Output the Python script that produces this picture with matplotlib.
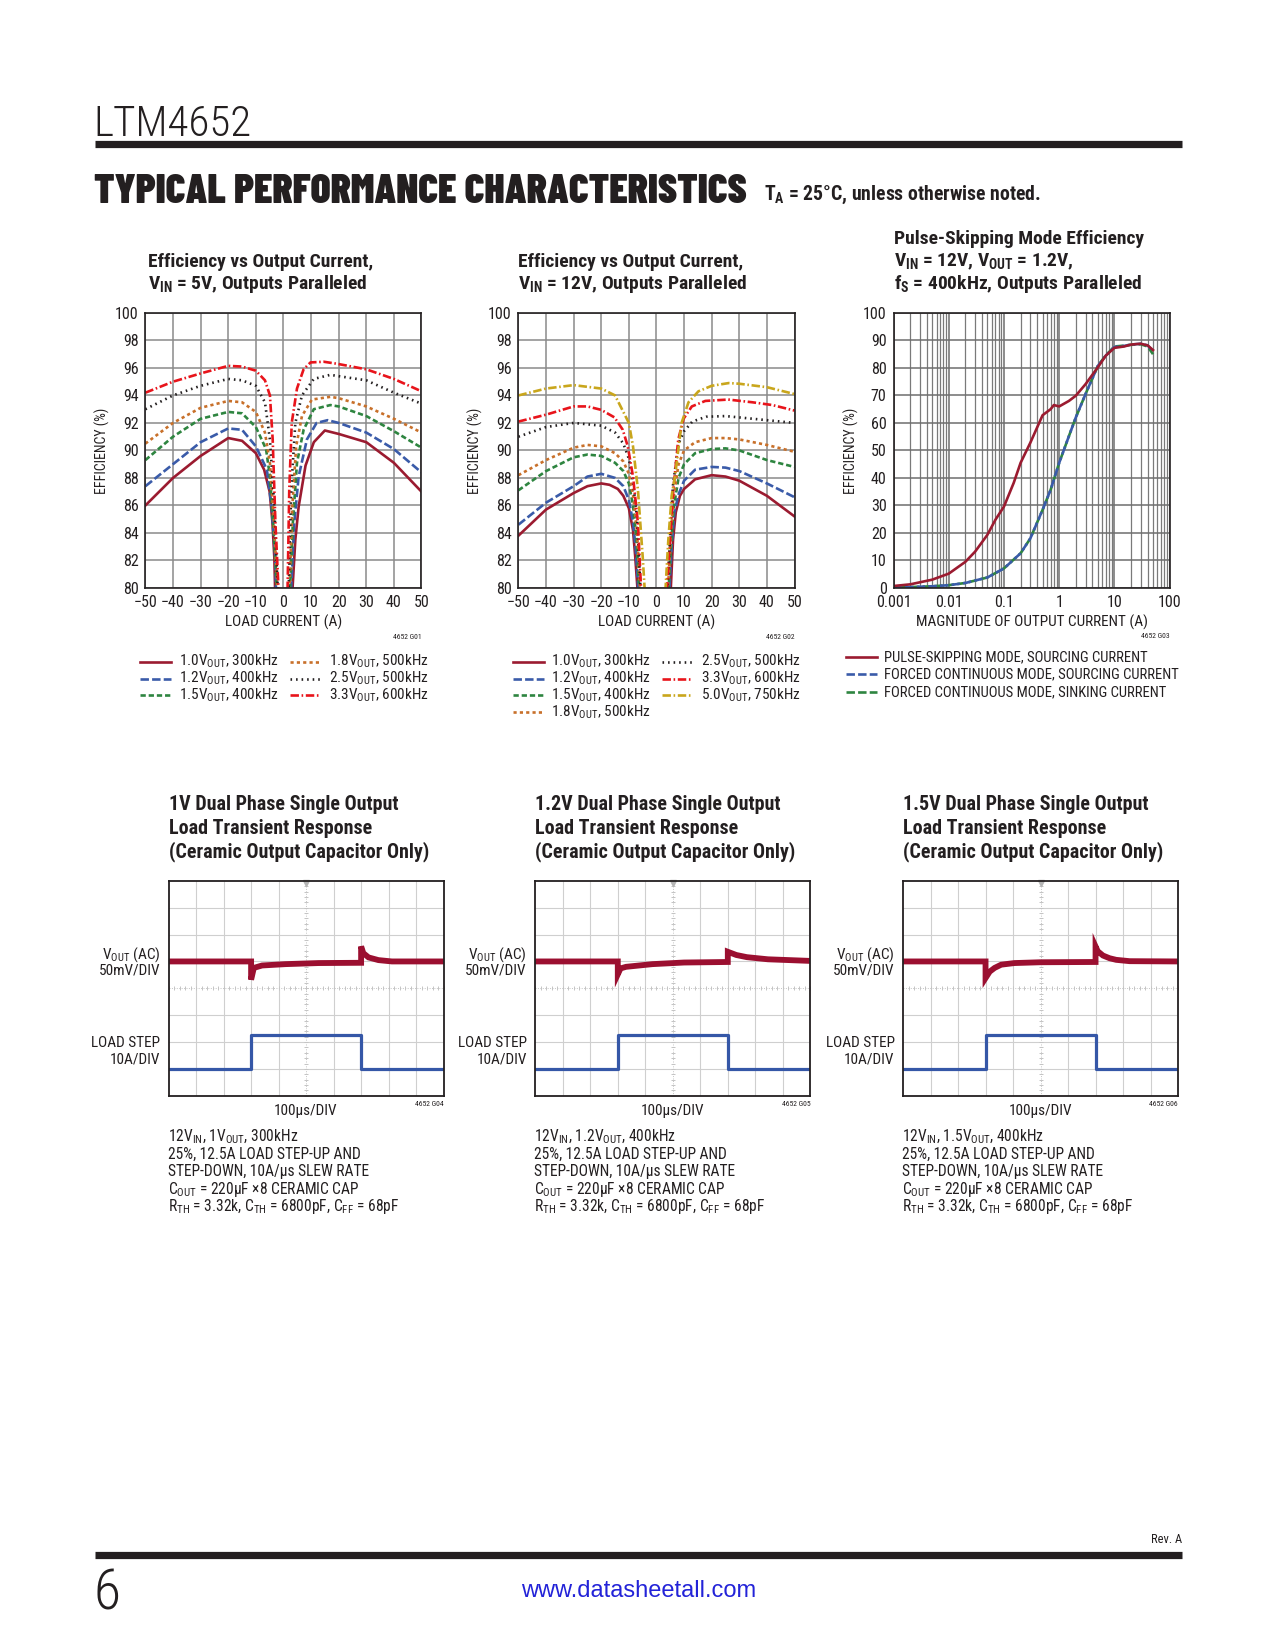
import numpy as np
import matplotlib.pyplot as plt
from matplotlib.lines import Line2D

REG = ['Roboto Condensed', 'DejaVu Sans']
plt.rcParams['font.family'] = REG
plt.rcParams['mathtext.fontset'] = 'custom'
plt.rcParams['mathtext.rm'] = 'Roboto Condensed'
plt.rcParams['mathtext.it'] = 'Roboto Condensed:italic'
plt.rcParams['mathtext.bf'] = 'Roboto Condensed:bold'
plt.rcParams['axes.unicode_minus'] = True

# ---------------- data: efficiency, VIN = 5V (G01) ----------------
g01_10_x = [-50, -40, -30, -20, -15, -10, -7, -5, -4, -3.3, -2.8, 2.8, 3.3, 4.3, 5.5, 8, 11, 15, 20, 30, 40, 50]
g01_10_y = [86.0, 88.0, 89.6, 90.9, 90.7, 89.8, 88.6, 87.0, 84.8, 82.2, 78, 78, 80, 83.5, 85.9, 88.9, 90.6, 91.45, 91.2, 90.6, 89.1, 87.0]
g01_12_x = [-50, -40, -30, -20, -15, -10, -6, -4.3, -3, -2.5, 2.5, 2.8, 3.9, 5.5, 8.5, 12, 16, 20, 30, 40, 50]
g01_12_y = [87.4, 89.0, 90.6, 91.6, 91.5, 90.3, 88.6, 85.9, 82.3, 78, 78, 80, 84.7, 88.1, 90.8, 92.0, 92.2, 92.0, 91.3, 90.1, 88.4]
g01_15_x = [-50, -40, -30, -20, -15, -10, -6.3, -4.9, -3.7, -2.4, -2.1, 2.1, 2.4, 3.4, 4.9, 7.3, 11, 17, 20, 30, 40, 50]
g01_15_y = [89.3, 91.0, 92.3, 92.8, 92.7, 91.7, 90.1, 88.1, 84.7, 80, 78, 78, 80, 84.7, 89.1, 91.5, 93.0, 93.3, 93.2, 92.5, 91.4, 90.2]
g01_18_x = [-50, -40, -30, -20, -15, -10, -6.7, -4.9, -3.5, -2.2, -1.9, 1.9, 2.2, 3.2, 4.6, 6.7, 10.3, 17, 20, 30, 40, 50]
g01_18_y = [90.5, 92.0, 93.1, 93.6, 93.5, 92.8, 91.3, 89.1, 85.0, 80, 78, 78, 80, 85.9, 90.3, 92.5, 93.7, 93.9, 93.8, 93.2, 92.3, 91.3]
g01_25_x = [-50, -40, -30, -20, -15, -10, -6.7, -4.9, -3.3, -2.1, -1.8, 1.7, 1.9, 2.8, 4.3, 6.7, 11, 17, 20, 30, 40, 50]
g01_25_y = [93.0, 94.0, 94.7, 95.2, 95.1, 94.7, 93.5, 90.8, 85.9, 80, 78, 78, 80, 87.1, 92.0, 94.0, 95.2, 95.5, 95.4, 95.1, 94.2, 93.4]
g01_33_x = [-50, -40, -30, -20, -15, -10, -6.7, -4.9, -3.9, -2.9, -1.8, -1.5, 1.3, 1.5, 2.1, 3.0, 4.9, 7.3, 9.8, 14.6, 19.5, 30, 40, 50]
g01_33_y = [94.2, 95.0, 95.6, 96.15, 96.1, 95.8, 95.1, 94.0, 90.8, 84.7, 80, 78, 78, 80, 87.1, 92.0, 94.5, 95.9, 96.4, 96.45, 96.3, 95.9, 95.2, 94.3]

# ---------------- data: efficiency, VIN = 12V (G02) ----------------
g02_10_x = [-50, -40, -30, -25, -20, -17, -14, -12, -10, -8.5, -7.7, -6.9, -6.6, 5.0, 5.2, 6, 7, 8.5, 10, 14, 20, 25, 30, 40, 50]
g02_10_y = [83.8, 85.7, 86.9, 87.4, 87.6, 87.5, 87.2, 86.7, 85.8, 84.2, 82.3, 80, 78, 78, 80, 83.5, 85.5, 86.7, 87.2, 87.9, 88.2, 88.1, 87.8, 86.7, 85.2]
g02_12_x = [-50, -40, -30, -25, -20, -15, -12, -10, -8.5, -7.5, -6.6, -6.3, 4.5, 4.7, 5.5, 6.5, 8, 10, 14, 20, 25, 30, 40, 50]
g02_12_y = [84.6, 86.2, 87.4, 88.1, 88.3, 88.0, 87.4, 86.4, 84.8, 82.8, 80, 78, 78, 80, 83.0, 85.5, 86.8, 87.8, 88.6, 88.8, 88.75, 88.5, 87.6, 86.6]
g02_15_x = [-50, -40, -30, -25, -20, -15, -12, -10, -8.5, -7.2, -6.3, -6.0, 4.2, 4.4, 5.2, 6.2, 8, 10, 14, 20, 25, 30, 40, 50]
g02_15_y = [87.1, 88.5, 89.5, 89.7, 89.6, 89.1, 88.5, 87.6, 86.0, 83.5, 80, 78, 78, 80, 82.8, 85.8, 88.0, 89.0, 89.8, 90.1, 90.15, 90.0, 89.3, 88.8]
g02_18_x = [-50, -40, -30, -25, -20, -15, -12, -10, -8.5, -7, -6, -5.7, 4.0, 4.2, 5, 6, 8, 10, 14, 20, 25, 30, 40, 50]
g02_18_y = [88.2, 89.3, 90.2, 90.4, 90.3, 89.8, 89.2, 88.3, 86.8, 84.0, 80, 78, 78, 80, 83.0, 86.3, 89.0, 90.0, 90.6, 90.9, 90.9, 90.8, 90.4, 89.9]
g02_25_x = [-50, -40, -30, -20, -15, -12, -10, -8.5, -7, -5.8, -5.5, 3.8, 4.0, 5, 6, 8, 10, 13, 18, 25, 30, 40, 50]
g02_25_y = [91.0, 91.7, 92.0, 91.8, 91.3, 90.5, 89.4, 87.8, 85.0, 80, 78, 78, 80, 84.0, 87.5, 90.5, 91.4, 92.1, 92.45, 92.5, 92.4, 92.2, 92.0]
g02_33_x = [-50, -40, -30, -25, -20, -15.2, -12.2, -10.4, -8.5, -6.7, -5.6, -5.3, 3.6, 3.8, 4.9, 6.1, 7.9, 9.8, 12.8, 17.7, 26, 34.8, 42, 50]
g02_33_y = [92.1, 92.6, 93.2, 93.2, 92.95, 92.4, 91.5, 90.3, 88.1, 84.7, 80, 78, 78, 80, 83.5, 87.1, 90.8, 92.3, 93.2, 93.6, 93.7, 93.5, 93.3, 92.9]
g02_50_x = [-50, -40, -30, -20, -15, -10, -8.5, -6.7, -5, -4.3, -4.0, 3.0, 3.3, 4.3, 5.5, 6.7, 9.1, 11.6, 15.2, 20, 26.2, 30, 40, 50]
g02_50_y = [94.0, 94.5, 94.75, 94.5, 94.0, 92.0, 90.3, 87.1, 82.3, 80, 78, 78, 80, 83.5, 86.7, 88.1, 92.0, 93.5, 94.3, 94.7, 94.9, 94.85, 94.6, 94.1]

# ---------------- data: pulse-skipping efficiency (G03) ----------------
ps_x = [0.001, 0.002, 0.005, 0.01, 0.02, 0.03, 0.05, 0.07, 0.1, 0.15, 0.2, 0.3, 0.5, 0.7, 0.8, 1.0, 1.5, 2, 3, 5, 7, 10, 15, 20, 30, 40, 50]
ps_y = [0.7, 1.3, 3.0, 5.2, 9.5, 13.2, 19.3, 24.8, 29.6, 38.2, 45.5, 52.8, 62.8, 65.0, 66.5, 66.0, 68.0, 69.9, 74.1, 80.2, 84.5, 87.3, 87.8, 88.5, 88.8, 88.2, 86.5]
fc_x = [0.001, 0.002, 0.005, 0.01, 0.02, 0.05, 0.1, 0.2, 0.3, 0.5, 0.7, 1, 1.5, 2, 3, 5, 7, 10, 15, 20, 30, 40, 50]
fc_src_y = [0.1, 0.3, 0.6, 1.0, 1.8, 3.8, 7.1, 12.6, 18.0, 28.4, 35.7, 45.5, 55.2, 62.0, 70.5, 80.7, 84.5, 87.6, 88.0, 88.5, 88.8, 88.2, 86.0]
fc_snk_y = [0.1, 0.3, 0.6, 1.0, 1.8, 3.8, 7.1, 12.6, 18.0, 28.4, 35.7, 45.5, 55.2, 62.0, 70.5, 80.7, 84.6, 87.8, 88.1, 88.4, 88.6, 87.8, 85.0]

# ---------------- data: load transient scope traces ----------------
# time in us, VOUT deviation in mV, load step in A
vout1_t = [0, 300, 300, 310, 340, 425, 546, 700, 700, 708, 727, 763, 812, 1000]
vout1_mv = [0, 0, -34, -12, -7.5, -5, -3, -2.5, 28, 15.5, 7.5, 2.5, 0, 0]
vout2_t = [0, 300, 300, 310, 330, 426, 541, 700, 700, 731, 769, 846, 1000]
vout2_mv = [0, 0, -24, -13, -10, -5, -2, -1, 18, 12, 8, 4, 1]
vout3_t = [0, 300, 300, 315, 333, 357, 405, 500, 700, 700, 708, 727, 751, 775, 824, 1000]
vout3_mv = [0, 0, -31, -19, -12, -6, -3, -1.5, -1, 28, 19, 11, 6, 3, 0.5, 0]
step_t = [0, 300, 300, 700, 700, 1000]
step_a = [0, 0, 12.5, 12.5, 0, 0]

scope_titles = ['1V Dual Phase Single Output', '1.2V Dual Phase Single Output', '1.5V Dual Phase Single Output']
scope_first_note = [r'12V$_{\rm IN}$, 1V$_{\rm OUT}$, 300kHz',
                    r'12V$_{\rm IN}$, 1.2V$_{\rm OUT}$, 400kHz',
                    r'12V$_{\rm IN}$, 1.5V$_{\rm OUT}$, 400kHz']

W, H = 1210.0, 1566.0
INK = '#231f20'
DRED, BLUE, GREEN, ORANGE, RED, GOLD = '#9b1b30', '#3a5ba9', '#2e8540', '#c8702a', '#e8141b', '#c9a61c'


def px(x):
    return x / W


def py(y):
    return 1 - y / H


fig = plt.figure(figsize=(12.75, 16.5), dpi=100)


def ftext(x, y, s, size=10.5, **kw):
    kw.setdefault('va', 'center')
    kw.setdefault('color', INK)
    fig.text(px(x), py(y), s, fontsize=size, **kw)


def fline(x0, x1, y, **kw):
    fig.add_artist(Line2D([px(x0), px(x1)], [py(y), py(y)], **kw))


# header / footer
ftext(89, 129, 'LTM4652', 31, va='baseline', weight='light')
fline(90, 1122, 136.5, lw=5.2, color=INK, solid_capstyle='butt')
ftext(89, 193, 'TYPICAL PERFORMANCE CHARACTERISTICS', 29.8, va='baseline', weight='black',
      family=['Barlow Condensed', 'DejaVu Sans'])
ftext(725, 190, r'T$_{\mathbf{A}}$ = 25°C, unless otherwise noted.', 14.2, va='baseline', weight='bold')
fline(90, 1122, 1475.5, lw=5.2, color=INK, solid_capstyle='butt')
ftext(89, 1528, '6', 40, va='baseline', weight='light')
ftext(606, 1510, 'www.datasheetall.com', 17, ha='center', color='#2323d8', family=['Liberation Sans', 'DejaVu Sans'])
ftext(1122, 1461, 'Rev. A', 9, ha='right')

styles = {
    '10': dict(color=DRED, ls='-'),
    '12': dict(color=BLUE, ls=(0, (3.2, 1.2))),
    '15': dict(color=GREEN, ls=(0, (2.0, 1.1))),
    '18': dict(color=ORANGE, ls=(0, (1.2, 1.2))),
    '25': dict(color=INK, ls=(0, (0.6, 1.5))),
    '33': dict(color=RED, ls=(0, (3.2, 1.0, 0.6, 1.0))),
    '50': dict(color=GOLD, ls=(0, (3.2, 1.0, 0.6, 1.0))),
}


def eff_axes(left):
    ax = fig.add_axes([px(left), py(558), 262 / W, 261 / H])
    ax.set_xlim(-50, 50)
    ax.set_ylim(80, 100)
    ax.set_xticks(range(-50, 51, 10))
    ax.set_yticks(range(80, 101, 2))
    ax.grid(True, color='#8a8a8a', lw=1.1)
    ax.set_axisbelow(True)
    ax.tick_params(length=0, labelsize=11.5, pad=5, colors=INK)
    for s in ax.spines.values():
        s.set_linewidth(1.2)
        s.set_color(INK)
    return ax


# ---------- G01 ----------
ax1 = eff_axes(138)
for key, xs, ys in [('10', g01_10_x, g01_10_y), ('12', g01_12_x, g01_12_y), ('15', g01_15_x, g01_15_y),
                    ('18', g01_18_x, g01_18_y), ('25', g01_25_x, g01_25_y), ('33', g01_33_x, g01_33_y)]:
    ax1.plot(xs, ys, lw=1.9, **styles[key])
ftext(140, 249, 'Efficiency vs Output Current,', 14, weight='bold')
ftext(140, 270, r'V$_{\mathbf{IN}}$ = 5V, Outputs Paralleled', 14, weight='bold')
ftext(269, 591, 'LOAD CURRENT (A)', 11, ha='center')
ftext(97, 428, 'EFFICIENCY (%)', 10, ha='center', rotation=90)
ftext(400, 605, '4652 G01', 5.5, ha='right')

g01_leg = [(133, 170, 628, '10', r'1.0V$_{\rm OUT}$, 300kHz'),
           (133, 170, 644, '12', r'1.2V$_{\rm OUT}$, 400kHz'),
           (133, 170, 660, '15', r'1.5V$_{\rm OUT}$, 400kHz'),
           (275, 312, 628, '18', r'1.8V$_{\rm OUT}$, 500kHz'),
           (275, 312, 644, '25', r'2.5V$_{\rm OUT}$, 500kHz'),
           (275, 312, 660, '33', r'3.3V$_{\rm OUT}$, 600kHz')]
for x0, tx, y, key, lab in g01_leg:
    fline(x0, x0 + 29, y, lw=1.9, **styles[key])
    ftext(tx, y, lab, 11)

# ---------- G02 ----------
ax2 = eff_axes(492)
for key, xs, ys in [('10', g02_10_x, g02_10_y), ('12', g02_12_x, g02_12_y), ('15', g02_15_x, g02_15_y),
                    ('18', g02_18_x, g02_18_y), ('25', g02_25_x, g02_25_y), ('33', g02_33_x, g02_33_y),
                    ('50', g02_50_x, g02_50_y)]:
    ax2.plot(xs, ys, lw=1.9, **styles[key])
ftext(492, 249, 'Efficiency vs Output Current,', 14, weight='bold')
ftext(492, 270, r'V$_{\mathbf{IN}}$ = 12V, Outputs Paralleled', 14, weight='bold')
ftext(623, 591, 'LOAD CURRENT (A)', 11, ha='center')
ftext(451, 428, 'EFFICIENCY (%)', 10, ha='center', rotation=90)
ftext(754, 605, '4652 G02', 5.5, ha='right')

g02_leg = [(487, 523, 628, '10', r'1.0V$_{\rm OUT}$, 300kHz'),
           (487, 523, 644, '12', r'1.2V$_{\rm OUT}$, 400kHz'),
           (487, 523, 660, '15', r'1.5V$_{\rm OUT}$, 400kHz'),
           (487, 523, 676, '18', r'1.8V$_{\rm OUT}$, 500kHz'),
           (628, 665, 628, '25', r'2.5V$_{\rm OUT}$, 500kHz'),
           (628, 665, 644, '33', r'3.3V$_{\rm OUT}$, 600kHz'),
           (628, 665, 660, '50', r'5.0V$_{\rm OUT}$, 750kHz')]
for x0, tx, y, key, lab in g02_leg:
    fline(x0, x0 + 29, y, lw=1.9, **styles[key])
    ftext(tx, y, lab, 11)

# ---------- G03 ----------
ax3 = fig.add_axes([px(848), py(558), 262 / W, 261 / H])
ax3.set_xscale('log')
ax3.set_xlim(0.001, 100)
ax3.set_ylim(0, 100)
ax3.set_yticks(range(0, 101, 10))
ax3.set_xticks([0.001, 0.01, 0.1, 1, 10, 100])
ax3.set_xticklabels(['0.001', '0.01', '0.1', '1', '10', '100'])
ax3.grid(True, which='major', color='#6e6e6e', lw=1.1)
ax3.grid(True, which='minor', axis='x', color='#7a7a7a', lw=0.9)
ax3.set_axisbelow(True)
ax3.tick_params(which='both', length=0, labelsize=11.5, pad=5, colors=INK)
for s in ax3.spines.values():
    s.set_linewidth(1.2)
    s.set_color(INK)
ax3.plot(fc_x, fc_snk_y, color=GREEN, lw=1.9, ls=(2.2, (3.2, 1.2)))
ax3.plot(fc_x, fc_src_y, color=BLUE, lw=1.9, ls=(0, (3.2, 1.2)))
ax3.plot(ps_x, ps_y, color=DRED, lw=1.9)
ftext(848, 227, 'Pulse-Skipping Mode Efficiency', 14, weight='bold')
ftext(848, 249, r'V$_{\mathbf{IN}}$ = 12V, V$_{\mathbf{OUT}}$ = 1.2V,', 14, weight='bold')
ftext(848, 270, r'f$_{\mathbf{S}}$ = 400kHz, Outputs Paralleled', 14, weight='bold')
ftext(979, 591, 'MAGNITUDE OF OUTPUT CURRENT (A)', 11, ha='center')
ftext(808, 428, 'EFFICIENCY (%)', 10, ha='center', rotation=90)
ftext(1110, 604, '4652 G03', 5.5, ha='right')

fline(803, 832, 624, lw=1.9, color=DRED)
ftext(839, 624, 'PULSE-SKIPPING MODE, SOURCING CURRENT', 10.5)
fline(803, 832, 640, lw=1.9, color=BLUE, ls=(0, (3.2, 1.2)))
ftext(839, 640, 'FORCED CONTINUOUS MODE, SOURCING CURRENT', 10.5)
fline(803, 832, 657, lw=1.9, color=GREEN, ls=(0, (3.2, 1.2)))
ftext(839, 657, 'FORCED CONTINUOUS MODE, SINKING CURRENT', 10.5)


# ---------- load transient scope shots ----------
def scope(left, idx, t, mv):
    ax = fig.add_axes([px(left), py(1040), 261 / W, 204 / H])
    ax.set_xlim(0, 1000)
    ax.set_ylim(-4, 4)
    for gx in range(100, 1000, 100):
        if gx != 500:
            ax.axvline(gx, color='#cfcfcf', lw=0.8, zorder=0)
    for gy in range(-3, 4):
        if gy != 0:
            ax.axhline(gy, color='#cfcfcf', lw=0.8, zorder=0)
    ax.axvline(500, color='#c4c4c4', lw=0.7, ls=(0, (1, 1.5)), zorder=0)
    ax.axhline(0, color='#c4c4c4', lw=0.7, ls=(0, (1, 1.5)), zorder=0)
    ax.plot(np.arange(0, 1001, 20), np.zeros(51), ls='none', marker='|', ms=3.5, mew=0.7, color='#c4c4c4', zorder=0)
    ax.plot(np.full(41, 500), np.arange(-4, 4.01, 0.2), ls='none', marker='_', ms=3.5, mew=0.7, color='#c4c4c4', zorder=0)
    ax.plot([500], [3.93], marker='v', ms=5, color='#b5b5b5', clip_on=False)
    # channel 1: 50mV/div, +1 div offset ; channel 2: 10A/div, -3 div offset
    ax.plot(t, 1 + np.array(mv) / 50.0, color='#9b0f30', lw=4.2, solid_joinstyle='miter')
    ax.plot(step_t, -3 + np.array(step_a) / 10.0, color='#3557a7', lw=2.3)
    ax.set_xticks([])
    ax.set_yticks([])
    for s in ax.spines.values():
        s.set_linewidth(1.3)
        s.set_color(INK)

    right = left + 261
    ftext(left, 764, scope_titles[idx], 14.4, weight='bold')
    ftext(left, 786, 'Load Transient Response', 14.4, weight='bold')
    ftext(left, 808, '(Ceramic Output Capacitor Only)', 14.4, weight='bold')
    ftext(left - 8, 906, r'V$_{\rm OUT}$ (AC)', 11, ha='right')
    ftext(left - 8, 921, '50mV/DIV', 11, ha='right')
    ftext(left - 8, 990, 'LOAD STEP', 11, ha='right')
    ftext(left - 8, 1006, '10A/DIV', 11, ha='right')
    ftext(left + 130, 1054, '100µs/DIV', 11, ha='center')
    ftext(right, 1048, '4652 G0%d' % (idx + 4), 5.5, ha='right')
    notes = [scope_first_note[idx], '25%, 12.5A LOAD STEP-UP AND', 'STEP-DOWN, 10A/µs SLEW RATE',
             r'C$_{\rm OUT}$ = 220µF ×8 CERAMIC CAP',
             r'R$_{\rm TH}$ = 3.32k, C$_{\rm TH}$ = 6800pF, C$_{\rm FF}$ = 68pF']
    for k, s in enumerate(notes):
        ftext(left - 1, 1079 + k * 16.5, s, 11.2)


scope(160, 0, vout1_t, vout1_mv)
scope(508, 1, vout2_t, vout2_mv)
scope(857, 2, vout3_t, vout3_mv)

plt.savefig('out.png', dpi=100)
plt.close()
